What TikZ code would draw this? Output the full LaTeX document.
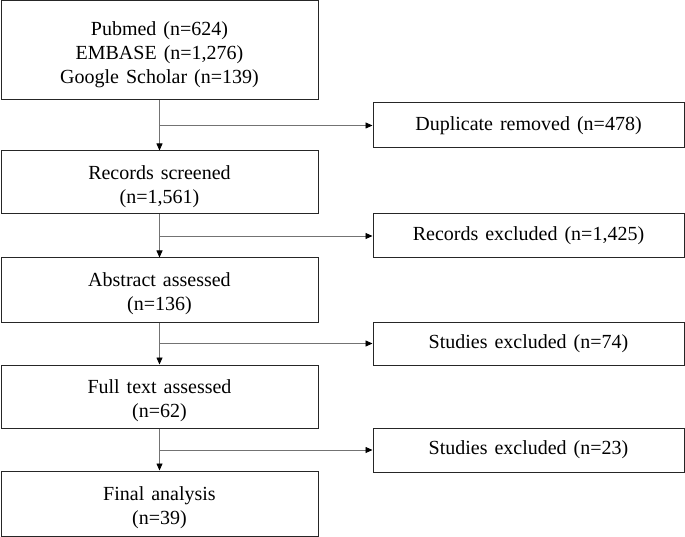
\documentclass[tikz,border=0pt]{standalone}
\usepackage{fontspec}
\setmainfont{Liberation Serif}[WordSpace=1.4]
\usetikzlibrary{arrows.meta}
\newcommand{\mystrut}{\rule{0pt}{22pt}}
\begin{document}
\begin{tikzpicture}[x=1pt,y=-1pt,
  box/.style={draw=black!85, line width=1pt, inner sep=0pt, align=center,
    font=\fontsize{20}{24}\selectfont},
  lbox/.style={box, minimum width=317pt},
  rbox/.style={box, minimum width=311pt},
  conn/.style={draw=black!55, line width=0.8pt, -{Triangle[length=7pt,width=6pt,fill=black,color=black]}}
]
\useasboundingbox (0,0) rectangle (685,537);
\node[lbox, minimum height=99pt] (src) at (159.5,50.5) {\mystrut Pubmed (n=624)\\EMBASE (n=1,276)\\Google Scholar (n=139)};
\node[lbox, minimum height=63pt] (scr) at (159.5,182.5) {\mystrut Records screened\\(n=1,561)};
\node[lbox, minimum height=64pt] (abs) at (159.5,290) {\mystrut Abstract assessed\\(n=136)};
\node[lbox, minimum height=63pt] (full) at (159.5,396.5) {\mystrut Full text assessed\\(n=62)};
\node[lbox, minimum height=65pt] (fin) at (159.5,503.5) {\mystrut Final analysis\\(n=39)};
\node[rbox, minimum height=45pt] (dup) at (528.5,125.5) {Duplicate removed (n=478)};
\node[rbox, minimum height=44pt] (rex) at (528.5,236) {Records excluded (n=1,425)};
\node[rbox, minimum height=43pt] (sx1) at (528.5,343.5) {Studies excluded (n=74)};
\node[rbox, minimum height=44pt] (sx2) at (528.5,450) {Studies excluded (n=23)};
\coordinate (b1) at (src.south |- dup.west);
\coordinate (b2) at (scr.south |- rex.west);
\coordinate (b3) at (abs.south |- sx1.west);
\coordinate (b4) at (full.south |- sx2.west);
\draw[conn] (src.south) -- (scr.north);
\draw[conn] (scr.south) -- (abs.north);
\draw[conn] (abs.south) -- (full.north);
\draw[conn] (full.south) -- (fin.north);
\draw[conn] (b1) -- (dup.west);
\draw[conn] (b2) -- (rex.west);
\draw[conn] (b3) -- (sx1.west);
\draw[conn] (b4) -- (sx2.west);
\end{tikzpicture}
\end{document}
